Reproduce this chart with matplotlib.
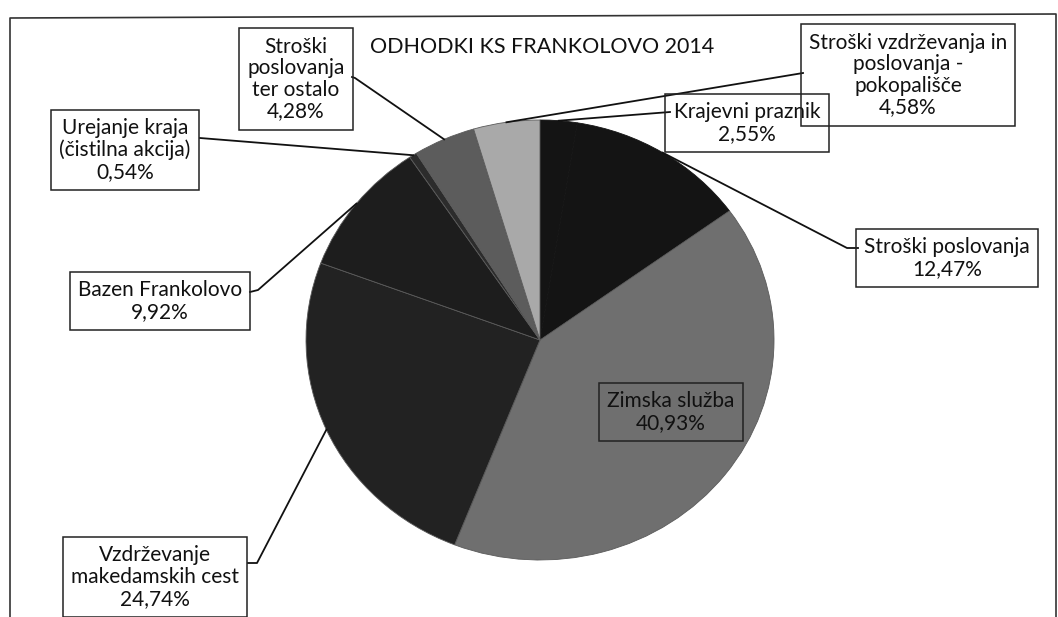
import matplotlib
matplotlib.use("Agg")
import matplotlib.pyplot as plt
import numpy as np

plt.rcParams['font.family'] = ['Lato', 'DejaVu Sans']

# slices, clockwise from 12 o'clock
names = ["Krajevni praznik", "Stroški poslovanja", "Zimska služba",
         "Vzdrževanje\nmakedamskih cest", "Bazen Frankolovo",
         "Urejanje kraja\n(čistilna akcija)", "Stroški\nposlovanja\nter ostalo",
         "Stroški vzdrževanja in\nposlovanja -\npokopališče"]
shares = [2.55, 12.47, 40.93, 24.74, 9.92, 0.54, 4.28, 4.58]
colors = ["#141414", "#141414", "#6f6f6f", "#222222", "#1d1d1d",
          "#2c2c2c", "#5c5c5c", "#a9a9a9"]

W, H = 1058, 617
fig = plt.figure(figsize=(W / 100, H / 100), dpi=100)
fig.patch.set_facecolor("white")

# pie in its own axes (scan is slightly wider than tall)
cx, cy, rx, ry = 540, 340, 234, 220
pie_ax = fig.add_axes([(cx - rx) / W, (H - cy - ry) / H, 2 * rx / W, 2 * ry / H])
wedges, _ = pie_ax.pie(shares, colors=colors, startangle=90, counterclock=False,
                       wedgeprops=dict(edgecolor="#5a5a5a", linewidth=0.6))
wedges[0].set_edgecolor(colors[0])
wedges[1].set_edgecolor(colors[1])
pie_ax.set_aspect("auto")
pie_ax.set_xlim(-1, 1)
pie_ax.set_ylim(-1, 1)
pie_ax.axis("off")

# overlay axes in pixel coords (y down)
ax = fig.add_axes([0, 0, 1, 1])
ax.set_xlim(0, W)
ax.set_ylim(H, 0)
ax.axis("off")
ax.set_zorder(3)
ax.patch.set_visible(False)

# outer frame
ax.plot([10, 10, 1056, 1056], [H + 5, 18, 14, H + 5], color="#333333", lw=1.2)

ax.text(370, 47, "ODHODKI KS FRANKOLOVO 2014", fontsize=15.5, ha="left", va="center",
        color="#111111")

# label centres and leader attach points (box side, elbow)
label_pos = [(747, 123), (947, 258), (671, 412), (155, 577), (160, 301),
             (125, 150), (296, 79), (908, 75)]
attach = [[(670, 112)], [(858, 248), (847, 248)], None, [(248, 563), (257, 563)],
          [(250, 292), (258, 290)], [(200, 138)], [(352, 77), (355, 78)],
          [(803, 73), (797, 74)]]

to_main = pie_ax.transData + ax.transData.inverted()
for w, name, val, pos, att in zip(wedges, names, shares, label_pos, attach):
    txt = f"{name}\n{val:.2f}%".replace(".", ",")
    ax.text(pos[0], pos[1], txt, fontsize=15, ha="center", va="center",
            color="#111111", linespacing=1.1,
            bbox=dict(boxstyle="square,pad=0.4", fc="none", ec="#222222", lw=1.1))
    if att is None:
        continue
    mid = np.deg2rad((w.theta1 + w.theta2) / 2)
    px, py = to_main.transform((np.cos(mid), np.sin(mid)))
    xs = [p[0] for p in att] + [px]
    ys = [p[1] for p in att] + [py]
    ax.plot(xs, ys, color="#111111", lw=1.3)

fig.savefig("out.png", dpi=100)
